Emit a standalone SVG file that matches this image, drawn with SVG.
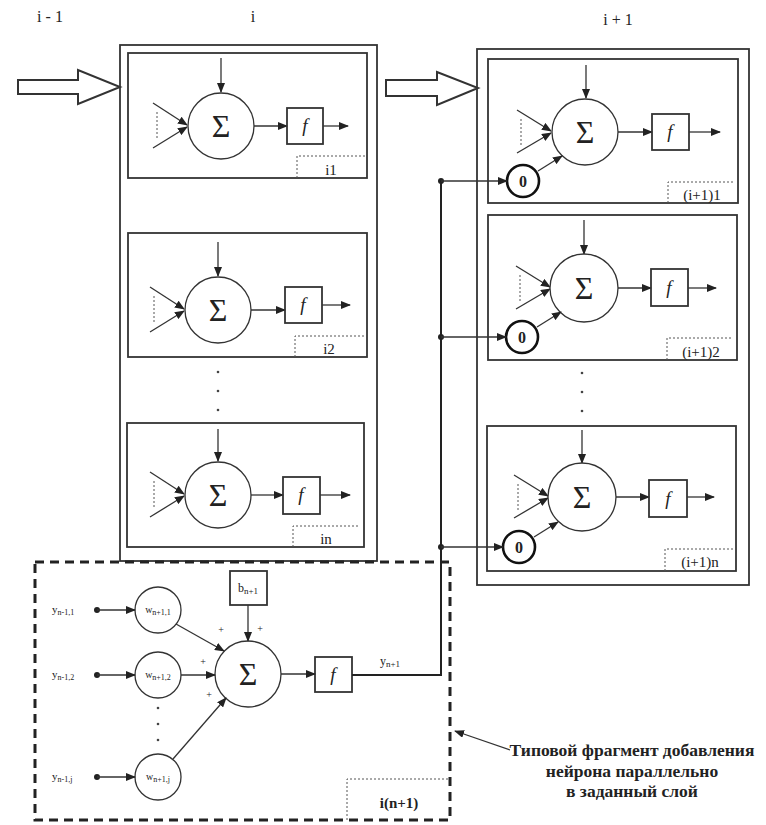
<svg xmlns="http://www.w3.org/2000/svg" width="766" height="825" viewBox="0 0 766 825">
<defs>
<marker id="ah" markerUnits="userSpaceOnUse" markerWidth="10" markerHeight="8" refX="9" refY="4" orient="auto">
<path d="M0,0 L10,4 L0,8 z" fill="#222"/>
</marker>
<style>
.bx{fill:none;stroke:#333;stroke-width:1.8}
.ln{fill:none;stroke:#333;stroke-width:1.3}
.ar{fill:none;stroke:#333;stroke-width:1.3;marker-end:url(#ah)}
.cir{fill:#fff;stroke:#333;stroke-width:1.3}
.dot{fill:none;stroke:#555;stroke-width:1;stroke-dasharray:2,2}
.t{font-family:"Liberation Serif",serif;fill:#222}
.sig{font-family:"Liberation Serif",serif;font-size:32px;fill:#222;text-anchor:middle}
.ff{font-family:"Liberation Serif",serif;font-size:19px;font-style:italic;fill:#222;text-anchor:middle}
.lb{font-family:"Liberation Serif",serif;font-size:15px;fill:#222;text-anchor:middle}
.hol{fill:#fff;stroke:#333;stroke-width:2}
.zc{fill:#fff;stroke:#111;stroke-width:2.6}
.dash{fill:none;stroke:#222;stroke-width:3;stroke-dasharray:9,6}
</style>
</defs>
<rect width="766" height="825" fill="#fff"/>

<g id="titles">
<text class="t" x="50" y="22" font-size="16" text-anchor="middle">i - 1</text>
<text class="t" x="253" y="22" font-size="16" text-anchor="middle">i</text>
<text class="t" x="618" y="25" font-size="16" text-anchor="middle">i + 1</text>
</g>

<g id="arrow-in"><polygon class="hol" points="18,80 78,80 78,70 120,87 78,104 78,94 18,94"/></g>
<g id="arrow-mid"><polygon class="hol" points="386,80 437,80 437,72 478,88 437,105 437,96 386,96"/></g>

<g id="layer-i"><rect class="bx" x="120" y="45" width="257" height="516"/></g>
<g id="layer-i1"><rect class="bx" x="477" y="49" width="272" height="536"/></g>

<!-- layer i neurons -->
<g id="n-i1">
<rect class="bx" x="128" y="53" width="239" height="125"/>
<g transform="translate(221,126)">
<line class="ar" x1="0" y1="-68" x2="0" y2="-34"/>
<line class="ar" x1="-68" y1="-23" x2="-34" y2="-1"/>
<line class="ar" x1="-68" y1="22" x2="-34" y2="1"/>
<line class="dot" x1="-64" y1="-14" x2="-64" y2="14"/>
<circle class="cir" r="33"/>
<text class="sig" x="0" y="11">Σ</text>
<line class="ar" x1="33" y1="0" x2="66" y2="0"/>
<rect class="bx" x="66" y="-18" width="36" height="36" stroke-width="1.4"/>
<text class="ff" x="84" y="6">f</text>
<line class="ar" x1="102" y1="0" x2="127" y2="0"/>
</g>
<polyline class="dot" points="297,178 297,156 366,156"/>
<text class="lb" x="331" y="175">i1</text>
</g>

<g id="n-i2">
<rect class="bx" x="128" y="233" width="239" height="124"/>
<g transform="translate(218,310)">
<line class="ar" x1="0" y1="-68" x2="0" y2="-34"/>
<line class="ar" x1="-68" y1="-23" x2="-34" y2="-1"/>
<line class="ar" x1="-68" y1="22" x2="-34" y2="1"/>
<line class="dot" x1="-64" y1="-14" x2="-64" y2="14"/>
<circle class="cir" r="33"/>
<text class="sig" x="0" y="11">Σ</text>
<line class="ar" x1="33" y1="0" x2="67" y2="0"/>
<rect class="bx" x="67" y="-23" width="37" height="36" stroke-width="1.4"/>
<text class="ff" x="85" y="1">f</text>
<line class="ar" x1="104" y1="-5" x2="132" y2="-5"/>
</g>
<polyline class="dot" points="295,357 295,336 366,336"/>
<text class="lb" x="329" y="354">i2</text>
</g>

<g id="dots-i">
<circle cx="218" cy="372" r="1.3" fill="#444"/>
<circle cx="218" cy="391" r="1.3" fill="#444"/>
<circle cx="218" cy="410" r="1.3" fill="#444"/>
</g>

<g id="n-in">
<rect class="bx" x="127" y="423" width="237" height="124"/>
<g transform="translate(218,495)">
<line class="ar" x1="0" y1="-66" x2="0" y2="-34"/>
<line class="ar" x1="-68" y1="-23" x2="-34" y2="-1"/>
<line class="ar" x1="-68" y1="22" x2="-34" y2="1"/>
<line class="dot" x1="-64" y1="-14" x2="-64" y2="14"/>
<circle class="cir" r="33"/>
<text class="sig" x="0" y="11">Σ</text>
<line class="ar" x1="33" y1="0" x2="65" y2="0"/>
<rect class="bx" x="65" y="-18" width="37" height="37" stroke-width="1.4"/>
<text class="ff" x="83" y="6">f</text>
<line class="ar" x1="102" y1="0" x2="132" y2="0"/>
</g>
<polyline class="dot" points="293,547 293,526 360,526"/>
<text class="lb" x="326" y="544">in</text>
</g>

<!-- layer i+1 neurons -->
<g id="n-i11">
<rect class="bx" x="488" y="59" width="250" height="144"/>
<g transform="translate(585,132)">
<line class="ar" x1="1" y1="-67" x2="1" y2="-34"/>
<line class="ar" x1="-68" y1="-22" x2="-34" y2="-1"/>
<line class="ar" x1="-68" y1="21" x2="-34" y2="1"/>
<line class="dot" x1="-64" y1="-13" x2="-64" y2="13"/>
<circle class="cir" r="33"/>
<text class="sig" x="0" y="11">Σ</text>
<line class="ar" x1="33" y1="0" x2="67" y2="0"/>
<rect class="bx" x="67" y="-18" width="37" height="36" stroke-width="1.4"/>
<text class="ff" x="85" y="6">f</text>
<line class="ar" x1="104" y1="0" x2="135" y2="0"/>
</g>
<g id="z1"><circle class="zc" cx="523" cy="181" r="16"/><text class="t" x="523" y="187" font-size="16" font-weight="bold" text-anchor="middle">0</text></g>
<line class="ar" x1="538" y1="171" x2="562" y2="156"/>
<polyline class="dot" points="668,203 668,182 733,182"/>
<text class="t" x="702" y="200" font-size="15" text-anchor="middle">(i+1)1</text>
</g>

<g id="n-i12">
<rect class="bx" x="488" y="215" width="249" height="145"/>
<g transform="translate(584,288)">
<line class="ar" x1="0" y1="-68" x2="0" y2="-34"/>
<line class="ar" x1="-68" y1="-22" x2="-34" y2="-1"/>
<line class="ar" x1="-68" y1="21" x2="-34" y2="1"/>
<line class="dot" x1="-64" y1="-13" x2="-64" y2="13"/>
<circle class="cir" r="34"/>
<text class="sig" x="0" y="11">Σ</text>
<line class="ar" x1="34" y1="0" x2="67" y2="0"/>
<rect class="bx" x="67" y="-19" width="37" height="37" stroke-width="1.4"/>
<text class="ff" x="85" y="6">f</text>
<line class="ar" x1="104" y1="0" x2="132" y2="0"/>
</g>
<g id="z2"><circle class="zc" cx="522" cy="337" r="16"/><text class="t" x="522" y="343" font-size="16" font-weight="bold" text-anchor="middle">0</text></g>
<line class="ar" x1="537" y1="327" x2="561" y2="312"/>
<polyline class="dot" points="667,360 667,338 733,338"/>
<text class="t" x="701" y="357" font-size="15" text-anchor="middle">(i+1)2</text>
</g>

<g id="dots-i1">
<circle cx="582" cy="373" r="1.3" fill="#444"/>
<circle cx="582" cy="392" r="1.3" fill="#444"/>
<circle cx="582" cy="411" r="1.3" fill="#444"/>
</g>

<g id="n-i1n">
<rect class="bx" x="487" y="426" width="249" height="145"/>
<g transform="translate(582,497)">
<line class="ar" x1="0" y1="-67" x2="0" y2="-34"/>
<line class="ar" x1="-68" y1="-22" x2="-34" y2="-1"/>
<line class="ar" x1="-68" y1="21" x2="-34" y2="1"/>
<line class="dot" x1="-64" y1="-13" x2="-64" y2="13"/>
<circle class="cir" r="34"/>
<text class="sig" x="0" y="11">Σ</text>
<line class="ar" x1="34" y1="0" x2="67" y2="0"/>
<rect class="bx" x="67" y="-17" width="38" height="37" stroke-width="1.4"/>
<text class="ff" x="86" y="8">f</text>
<line class="ar" x1="105" y1="0" x2="132" y2="0"/>
</g>
<g id="z3"><circle class="zc" cx="519" cy="547" r="16"/><text class="t" x="519" y="553" font-size="16" font-weight="bold" text-anchor="middle">0</text></g>
<line class="ar" x1="534" y1="537" x2="558" y2="522"/>
<polyline class="dot" points="665,571 665,549 733,549"/>
<text class="t" x="700" y="567" font-size="15" text-anchor="middle">(i+1)n</text>
</g>

<!-- added neuron fragment -->
<g id="fragment">
<rect class="dash" x="35" y="562" width="415" height="258"/>
<g id="y1"><text class="t" x="52" y="613" font-size="11">y<tspan font-size="8" dy="2">n-1,1</tspan></text></g>
<g id="y2"><text class="t" x="52" y="678" font-size="11">y<tspan font-size="8" dy="2">n-1,2</tspan></text></g>
<g id="yj"><text class="t" x="52" y="780" font-size="11">y<tspan font-size="8" dy="2">n-1,j</tspan></text></g>
<g id="w1"><circle class="cir" cx="158" cy="610" r="23"/><text class="t" x="158" y="613" font-size="10" text-anchor="middle">w<tspan font-size="8" dy="2">n+1,1</tspan></text></g>
<g id="w2"><circle class="cir" cx="158" cy="675" r="23"/><text class="t" x="158" y="678" font-size="10" text-anchor="middle">w<tspan font-size="8" dy="2">n+1,2</tspan></text></g>
<g id="wj"><circle class="cir" cx="158" cy="777" r="23"/><text class="t" x="158" y="780" font-size="10" text-anchor="middle">w<tspan font-size="8" dy="2">n+1,j</tspan></text></g>
<circle cx="158" cy="708" r="1.3" fill="#444"/>
<circle cx="158" cy="724" r="1.3" fill="#444"/>
<circle cx="158" cy="740" r="1.3" fill="#444"/>
<g id="b"><rect class="bx" x="230" y="571" width="37" height="34" stroke-width="1.4"/><text class="t" x="248" y="592" font-size="12" text-anchor="middle">b<tspan font-size="9" dy="2">n+1</tspan></text></g>
<g id="sum"><circle class="cir" cx="248" cy="674" r="33"/><text class="sig" x="248" y="685">Σ</text></g>
<g id="fb"><rect class="bx" x="315" y="657" width="37" height="35" stroke-width="1.4"/><text class="ff" x="333" y="681">f</text></g>
<g id="lbl-n1"><polyline class="dot" points="347,820 347,779 450,779"/><text class="t" x="399" y="808" font-size="15" font-weight="bold" text-anchor="middle">i(n+1)</text></g>
<text class="t" x="221" y="633" font-size="10" text-anchor="middle">+</text>
<text class="t" x="260" y="632" font-size="10" text-anchor="middle">+</text>
<text class="t" x="203" y="665" font-size="10" text-anchor="middle">+</text>
<text class="t" x="209" y="698" font-size="10" text-anchor="middle">+</text>
<text class="t" x="390" y="665" font-size="12" text-anchor="middle">y<tspan font-size="9" dy="2">n+1</tspan></text>
</g>

<g id="connectors">
<circle cx="97" cy="610" r="3" fill="#222"/>
<circle cx="97" cy="675" r="3" fill="#222"/>
<circle cx="97" cy="777" r="3" fill="#222"/>
<line class="ar" x1="97" y1="610" x2="135" y2="610"/>
<line class="ar" x1="97" y1="675" x2="135" y2="675"/>
<line class="ar" x1="97" y1="777" x2="135" y2="777"/>
<line class="ar" x1="176" y1="624" x2="224" y2="651"/>
<line class="ar" x1="181" y1="675" x2="215" y2="675"/>
<line class="ar" x1="173" y1="759" x2="226" y2="698"/>
<line class="ar" x1="248" y1="605" x2="248" y2="641"/>
<line class="ar" x1="281" y1="674" x2="315" y2="674"/>
<polyline fill="none" stroke="#222" stroke-width="2" points="352,675 441,675 441,181"/>
<circle cx="441" cy="181" r="3" fill="#222"/>
<circle cx="441" cy="337" r="3" fill="#222"/>
<circle cx="441" cy="547" r="3" fill="#222"/>
<line class="ar" x1="441" y1="181" x2="507" y2="181" stroke-width="1.8"/>
<line class="ar" x1="441" y1="337" x2="506" y2="337" stroke-width="1.8"/>
<line class="ar" x1="441" y1="547" x2="503" y2="547" stroke-width="1.8"/>
<line class="ar" x1="510" y1="750" x2="455" y2="731"/>
</g>

<g id="note">
<text class="t" x="632" y="756" font-size="17.5" font-weight="bold" text-anchor="middle">Типовой фрагмент добавления</text>
<text class="t" x="632" y="777" font-size="17.5" font-weight="bold" text-anchor="middle">нейрона параллельно</text>
<text class="t" x="632" y="797" font-size="17.5" font-weight="bold" text-anchor="middle">в заданный слой</text>
</g>
</svg>
